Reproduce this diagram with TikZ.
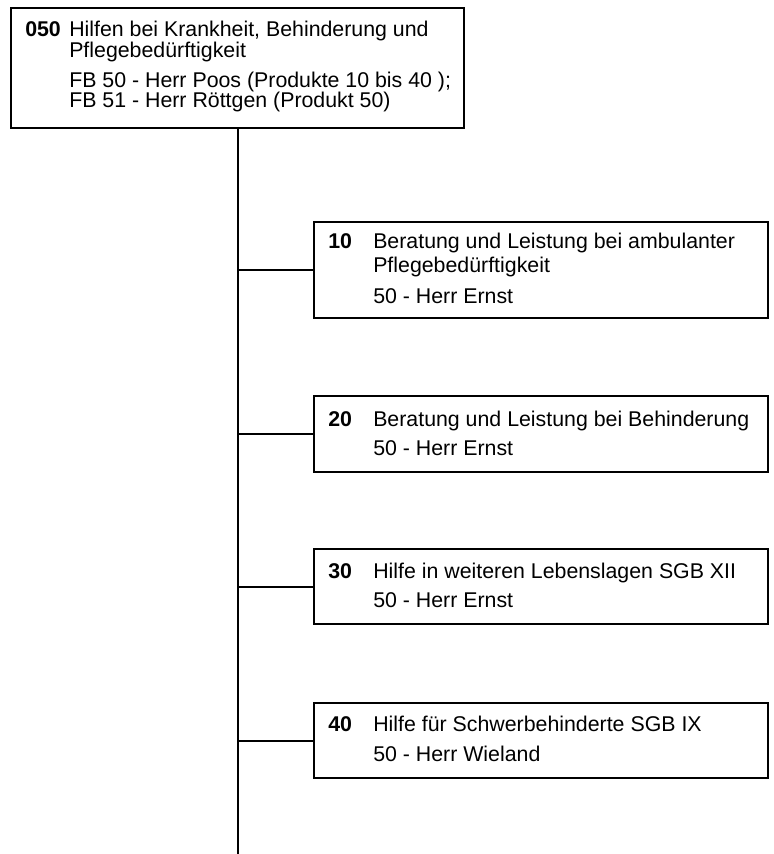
\documentclass[tikz,border=0pt]{standalone}
\usepackage{fontspec}
\setmainfont{Liberation Sans}
\usetikzlibrary{positioning}

\begin{document}
\begin{tikzpicture}[
    x=0.75pt,
    y=-0.75pt,
    frame/.style={draw, line width=1.5pt, anchor=north west, minimum width=340.5pt, inner sep=0pt},
    num/.style={anchor=base west, inner sep=0pt, font=\fontsize{16}{18}\selectfont\bfseries},
    txt/.style={anchor=base west, inner sep=0pt, font=\fontsize{16}{18}\selectfont},
    link/.style={line width=1.5pt}
]
\useasboundingbox (0,0) rectangle (774,854);

% Produktbereich
\node[frame, minimum width=339.75pt, minimum height=90pt] (top) at (10,7) {};
\node[num] (n050) at (25,36) {050};
\node[txt] (t050a) at (69,36) {Hilfen bei Krankheit, Behinderung und};
\node[txt] (t050b) at (69,57) {Pflegebedürftigkeit};
\node[txt] (t050c) at (69,87) {FB 50 - Herr Poos (Produkte 10 bis 40 );};
\node[txt] (t050d) at (69,107) {FB 51 - Herr Röttgen (Produkt 50)};

% Produkte
\node[frame, minimum height=72pt] (b10) at (313,221) {};
\node[num] (n10) at (328,248) {10};
\node[txt] (t10a) at (373,248) {Beratung und Leistung bei ambulanter};
\node[txt] (t10b) at (373,272) {Pflegebedürftigkeit};
\node[txt] (t10c) at (373,303) {50 - Herr Ernst};

\node[frame, minimum height=57pt] (b20) at (313,395) {};
\node[num] (n20) at (328,426) {20};
\node[txt] (t20a) at (373,426) {Beratung und Leistung bei Behinderung};
\node[txt] (t20b) at (373,455) {50 - Herr Ernst};

\node[frame, minimum height=56.25pt] (b30) at (313,548) {};
\node[num] (n30) at (328,578) {30};
\node[txt] (t30a) at (373,578) {Hilfe in weiteren Lebenslagen SGB XII};
\node[txt] (t30b) at (373,607) {50 - Herr Ernst};

\node[frame, minimum height=56.25pt] (b40) at (313,702) {};
\node[num] (n40) at (328,731) {40};
\node[txt] (t40a) at (373,731) {Hilfe für Schwerbehinderte SGB IX};
\node[txt] (t40b) at (373,761) {50 - Herr Wieland};

% Stamm und Abzweige
\coordinate (end) at (0,854);
\draw[link] (top.south) -- (top.south |- end);
\foreach \b in {b10,b20,b30,b40}
    \draw[link] (top.south |- \b.west) -- (\b.west);
\end{tikzpicture}
\end{document}
